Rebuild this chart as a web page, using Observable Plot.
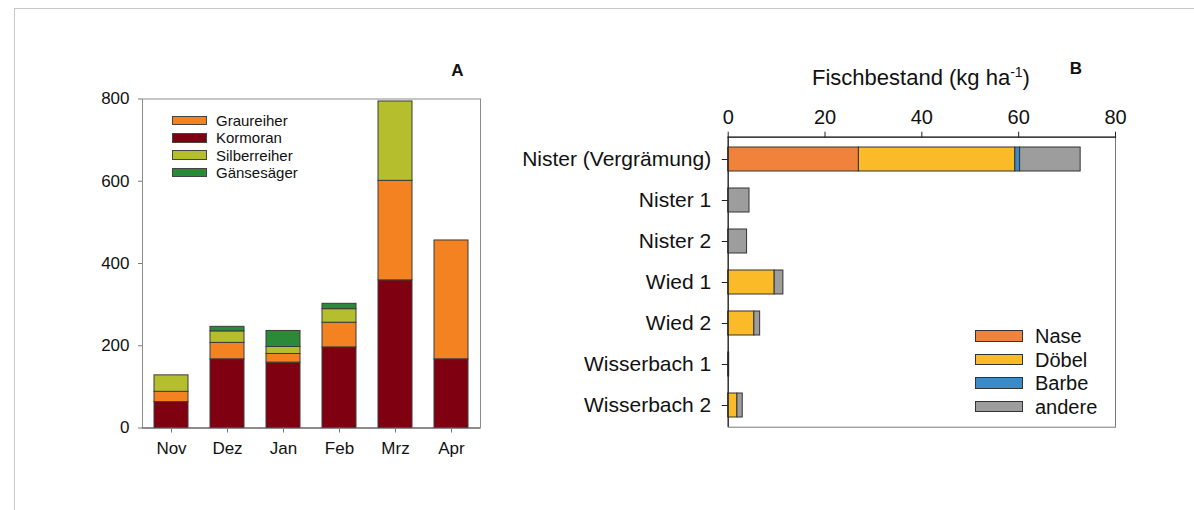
<!DOCTYPE html>
<html><head><meta charset="utf-8">
<script src="https://cdn.jsdelivr.net/npm/d3@7"></script>
<script src="https://cdn.jsdelivr.net/npm/@observablehq/plot@0.6"></script>
<style>
body{margin:0;background:#fff;font-family:"Liberation Sans",Arial,sans-serif;color:#111;}
#wrap{position:relative;width:1194px;height:510px;overflow:hidden;background:#fff;}
#border{position:absolute;left:14px;top:8px;width:1200px;height:520px;border-left:1.5px solid #c8c8c8;border-top:1.5px solid #c8c8c8;}
.panel{position:absolute;top:0;}
.panel svg{overflow:visible;background:transparent;}
.tag{position:absolute;font-weight:bold;font-size:17px;line-height:17px;width:30px;text-align:center;}
.title{position:absolute;font-size:22px;line-height:22px;text-align:center;}
.title sup{font-size:14px;vertical-align:8px;line-height:0;}
.leg{position:absolute;}
.leg .row{position:absolute;left:0;white-space:nowrap;}
.leg .box{position:absolute;left:0;box-sizing:border-box;}
.leg .txt{position:absolute;}
</style></head>
<body>
<div id="wrap">
  <div id="border"></div>
  <div id="panelA" class="panel" style="left:0px"></div>
  <div id="panelB" class="panel" style="left:490px"></div>
  <div class="tag" style="left:442.5px;top:61.5px">A</div>
  <div class="tag" style="left:1061px;top:59.5px">B</div>
  <div class="title" style="left:771px;width:300px;top:66.5px">Fischbestand (kg ha<sup>-1</sup>)</div>
  <div id="legA" class="leg"></div>
  <div id="legB" class="leg"></div>
</div>
<script>
// ---- Panel A data ----
const months = ["Nov", "Dez", "Jan", "Feb", "Mrz", "Apr"];
const speciesA = ["Kormoran", "Graureiher", "Silberreiher", "Gänsesäger"];
const legendOrderA = ["Graureiher", "Kormoran", "Silberreiher", "Gänsesäger"];
const colorsA = ["#7f0010", "#f58220", "#b5bf2e", "#2b8a37"];
const kormoran = [63, 167, 159, 196, 359, 167];
const graureiher = [25, 40, 21, 60, 242, 289];
const silberreiher = [40, 28, 17, 33, 193, 0];
const gaensesaeger = [0, 11, 39, 13, 0, 0];
const yTicksA = [0, 200, 400, 600, 800];

// ---- Panel B data ----
const sites = ["Nister (Vergrämung)", "Nister 1", "Nister 2", "Wied 1", "Wied 2", "Wisserbach 1", "Wisserbach 2"];
const speciesB = ["Nase", "Döbel", "Barbe", "andere"];
const colorsB = ["#f0833c", "#fbbb28", "#3d8bc6", "#9d9d9d"];
const nase = [27, 0, 0, 0, 0, 0, 0];
const doebel = [32.3, 0, 0, 9.6, 5.4, 0, 1.9];
const barbe = [1.0, 0, 0, 0, 0, 0, 0];
const andere = [12.5, 4.4, 3.9, 1.8, 1.2, 0.2, 1.1];
const xTicksB = [0, 20, 40, 60, 80];

const seriesA = {"Kormoran": kormoran, "Graureiher": graureiher, "Silberreiher": silberreiher, "Gänsesäger": gaensesaeger};
const birdData = [];
speciesA.forEach(s => months.forEach((m, i) => { if (seriesA[s][i] > 0) birdData.push({month: m, species: s, value: seriesA[s][i]}); }));

const seriesB = {"Nase": nase, "Döbel": doebel, "Barbe": barbe, "andere": andere};
const fishData = [];
speciesB.forEach(s => sites.forEach((site, i) => { if (seriesB[s][i] > 0) fishData.push({site, species: s, value: seriesB[s][i]}); }));

const font = "Liberation Sans, Arial, sans-serif";

const plotA = Plot.plot({
  width: 490, height: 510,
  marginLeft: 142, marginRight: 10, marginTop: 98.5, marginBottom: 82.5,
  style: {background: "transparent", fontFamily: font, color: "#111"},
  x: {domain: months, paddingInner: 0.4, paddingOuter: 0.21, label: null},
  y: {domain: [0, 800], label: null},
  color: {domain: speciesA, range: colorsA},
  marks: [
    Plot.frame({stroke: "#8c8c8c"}),
    Plot.barY(birdData, Plot.stackY({x: "month", y: "value", fill: "species", stroke: "#3a3a3a", strokeWidth: 1})),
    Plot.ruleY([0], {stroke: "#555"}),
    Plot.axisY({ticks: yTicksA, tickSize: 4, tickPadding: 9, fontSize: 17, stroke: "#777", fill: "#111", label: null}),
    Plot.axisX({tickSize: 5, tickPadding: 9, fontSize: 17, stroke: "#777", fill: "#111", label: null})
  ]
});
document.getElementById("panelA").append(plotA);

const plotB = Plot.plot({
  width: 704, height: 510,
  marginLeft: 237.7, marginRight: 79, marginTop: 136.7, marginBottom: 83.3,
  style: {background: "transparent", fontFamily: font, color: "#111"},
  x: {domain: [0, 80], label: null},
  y: {domain: sites, paddingInner: 0.42, paddingOuter: 0.21, label: null},
  color: {domain: speciesB, range: colorsB},
  marks: [
    Plot.frame({stroke: "#777"}),
    Plot.barX(fishData, Plot.stackX({y: "site", x: "value", fill: "species", stroke: "#333", strokeWidth: 1})),
    Plot.ruleX([0], {stroke: "#222", strokeWidth: 1.2}),
    Plot.frame({anchor: "top", stroke: "#222", strokeWidth: 1.2}),
    Plot.axisX({anchor: "top", ticks: xTicksB, tickSize: 6, tickPadding: 7, fontSize: 20, stroke: "#222", fill: "#111", label: null}),
    Plot.axisY({anchor: "left", tickSize: 6, tickPadding: 11, fontSize: 21, stroke: "#222", fill: "#111", label: null})
  ]
});
document.getElementById("panelB").append(plotB);

// ---- Legends ----
function legend(el, names, colorOf, opt) {
  el.style.left = opt.left + "px";
  el.style.top = opt.top + "px";
  names.forEach((n, i) => {
    const row = document.createElement("div");
    row.className = "row";
    row.style.top = (i * opt.step) + "px";
    const box = document.createElement("div");
    box.className = "box";
    box.style.width = opt.bw + "px";
    box.style.height = opt.bh + "px";
    box.style.top = (-opt.bh / 2) + "px";
    box.style.background = colorOf(n);
    box.style.border = opt.border;
    const txt = document.createElement("div");
    txt.className = "txt";
    txt.textContent = n;
    txt.style.left = opt.tx + "px";
    txt.style.fontSize = opt.fs + "px";
    txt.style.lineHeight = opt.fs + "px";
    txt.style.top = (-opt.fs / 2) + "px";
    row.append(box, txt);
    el.append(row);
  });
}
legend(document.getElementById("legA"), legendOrderA, n => colorsA[speciesA.indexOf(n)],
  {left: 171.5, top: 120.5, step: 17.3, bw: 35, bh: 9.5, tx: 44.5, fs: 15, border: "1px solid #444"});
legend(document.getElementById("legB"), speciesB, n => colorsB[speciesB.indexOf(n)],
  {left: 975, top: 336, step: 23.5, bw: 48, bh: 11.5, tx: 60, fs: 20, border: "1.3px solid #333"});
</script>
</body></html>
